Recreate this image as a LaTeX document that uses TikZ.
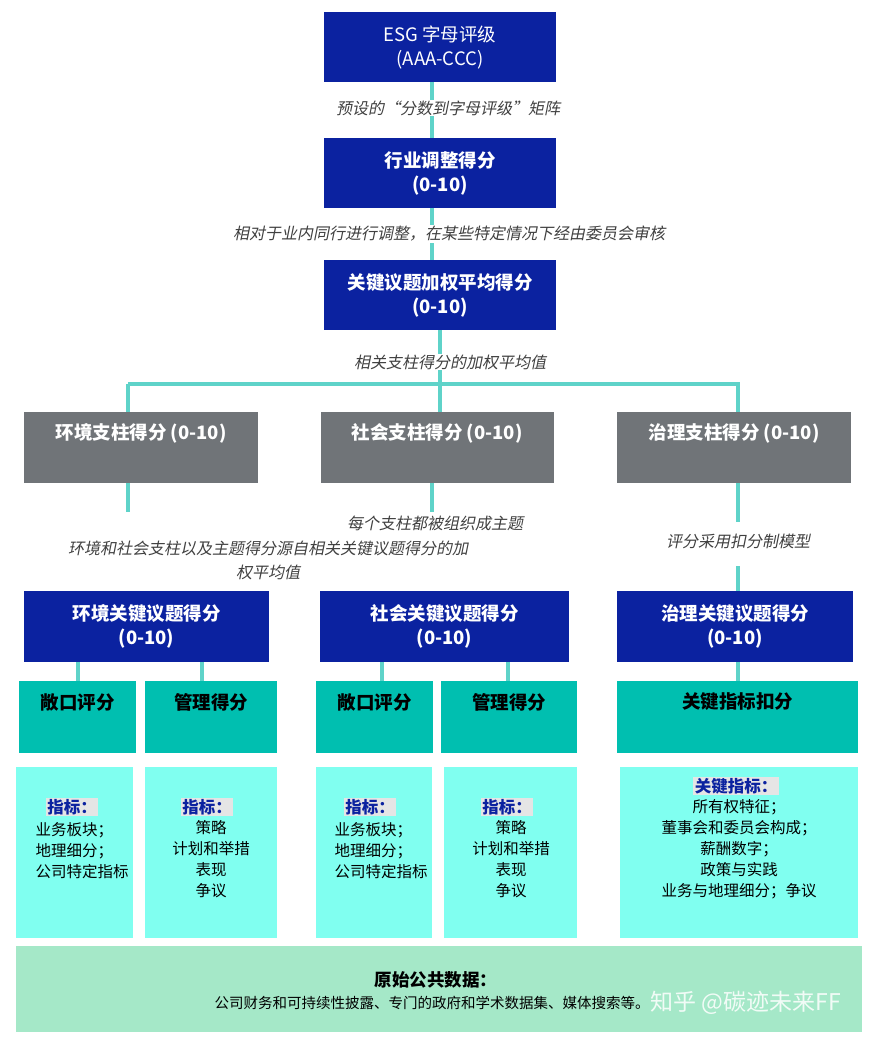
\documentclass[tikz,border=0pt]{standalone}
\usepackage{fontspec}
\setmainfont{Noto Sans CJK SC}
\newfontfamily\cjki[FakeSlant=0.2]{Noto Sans CJK SC}
\begin{document}
\begin{tikzpicture}[x=1pt,y=-1pt,
  dblue/.style={fill=dblueC,text=white,inner sep=0,font=\fontsize{18.5}{24}\selectfont\bfseries,align=center},
  ptxt/.style={text=white,font=\fontsize{18.5}{24}\selectfont\bfseries},
  ttxt/.style={font=\fontsize{18.5}{24}\selectfont\bfseries},
  lab/.style={text=black!75,font=\fontsize{16}{24}\selectfont\cjki,align=center},
  conn/.style={draw=lineC,line width=4.5pt},
  ind/.style={font=\fontsize{15.5}{21}\selectfont,align=center},
  hl/.style={fill=black!10,text=dblueC,font=\fontsize{16.5}{20}\selectfont\bfseries,inner sep=1.5pt}]
\definecolor{dblueC}{HTML}{0B22A0}
\definecolor{grayC}{HTML}{707478}
\definecolor{tealC}{HTML}{00BFB0}
\definecolor{cyanC}{HTML}{80FFF0}
\definecolor{lineC}{HTML}{5FD3C9}
\definecolor{greenC}{HTML}{A5E8C8}
\useasboundingbox (0,0) rectangle (876,1040);
% connectors (drawn first)
\coordinate (j) at (440,384);
\coordinate (jl) at (128,384);
\coordinate (jr) at (740,384);
\draw[conn] (432,82) -- (432,138);
\draw[conn] (432,208) -- (432,260);
\draw[conn] (440,330) -- (j);
\draw[conn] (jl) -- (jr);
\draw[conn] (jl) -- (128,412);
\draw[conn] (j) -- (440,412);
\draw[conn] (738,384) -- (738,412);
\draw[conn] (128,483) -- (128,512);
\draw[conn] (432,483) -- (432,512);
\draw[conn] (738,483) -- (738,522);
\draw[conn] (738,566) -- (738,591);
\foreach \x in {78,202,382,508,738} \draw[conn] (\x,662) -- (\x,681);
% top chain
\node[dblue,minimum width=232,minimum height=70] (esg) at (440,47) {\mdseries ESG 字母评级\\\mdseries(AAA-CCC)};
\node[lab,fill=white,inner sep=1pt] (l1) at (448,108) {预设的“分数到字母评级”矩阵};
\node[dblue,minimum width=232,minimum height=70] (ind) at (440,173) {行业调整得分\\(0-10)};
\node[lab,fill=white,inner sep=1pt] (l2) at (449,234) {相对于业内同行进行调整，在某些特定情况下经由委员会审核};
\node[dblue,minimum width=232,minimum height=70] (key) at (440,295) {关键议题加权平均得分\\(0-10)};
\node[lab,fill=white,inner sep=1pt] (l3) at (450,362) {相关支柱得分的加权平均值};
% pillars
\fill[grayC] (24,412) rectangle (258,483);
\node[ptxt] (pe) at (141,433) {环境支柱得分 (0-10)};
\fill[grayC] (321,412) rectangle (554,483);
\node[ptxt] (ps) at (437,433) {社会支柱得分 (0-10)};
\fill[grayC] (617,412) rectangle (851,483);
\node[ptxt] (pg) at (734,433) {治理支柱得分 (0-10)};
\node[lab] (l4) at (435,523) {每个支柱都被组织成主题};
\node[lab] (l5) at (268,560) {环境和社会支柱以及主题得分源自相关关键议题得分的加\\权平均值};
\node[lab] (l6) at (738,541) {评分采用扣分制模型};
% key issue scores
\node[dblue,minimum width=245,minimum height=71] (ke) at (146.5,626.5) {环境关键议题得分\\(0-10)};
\node[dblue,minimum width=249,minimum height=71] (ks) at (444.5,626.5) {社会关键议题得分\\(0-10)};
\node[dblue,minimum width=236,minimum height=71] (kg) at (735,626.5) {治理关键议题得分\\(0-10)};
% teal
\foreach \a/\b/\t/\n in {19/136/敞口评分/t1,145/277/管理得分/t2,316/433/敞口评分/t3,441/577/管理得分/t4,617/858/关键指标扣分/t5}{
  \fill[tealC] (\a,681) rectangle (\b,753);
  \node[ttxt] (\n) at ({(\a+\b)/2},702) {\t};
}
% cyan
\foreach \a/\b in {16/133,145/277,316/432,444/577,620/858} \fill[cyanC] (\a,767) rectangle (\b,938);
\node[hl] (h1) at (72,807) {指标：};
\node[ind,anchor=north west] (i1) at (32,817) {\begin{tabular}{@{}l@{}}业务板块；\\地理细分；\\公司特定指标\end{tabular}};
\node[hl] (h2) at (207,807) {指标：};
\node[ind,anchor=north] (i2) at (211,817) {策略\\计划和举措\\表现\\争议};
\node[hl] (h3) at (370,807) {指标：};
\node[ind,anchor=north west] (i3) at (331,817) {\begin{tabular}{@{}l@{}}业务板块；\\地理细分；\\公司特定指标\end{tabular}};
\node[hl] (h4) at (507,807) {指标：};
\node[ind,anchor=north] (i4) at (511,817) {策略\\计划和举措\\表现\\争议};
\node[hl] (h5) at (736,786) {关键指标：};
\node[ind,anchor=north] (i5) at (739,796) {所有权特征；\\董事会和委员会构成；\\薪酬数字；\\政策与实践\\业务与地理细分；争议};
% bottom
\fill[greenC] (16,946) rectangle (862,1032);
\node[font=\fontsize{17.5}{20}\selectfont\bfseries] (raw) at (436,980) {原始公共数据：};
\node[font=\fontsize{14.5}{16}\selectfont] (rawt) at (432,1003) {公司财务和可持续性披露、专门的政府和学术数据集、媒体搜索等。};
\node[text=white,opacity=0.85,font=\fontsize{23}{26}\selectfont] (wm) at (746,1003) {知乎 @碳迹未来FF};
\end{tikzpicture}
\end{document}
